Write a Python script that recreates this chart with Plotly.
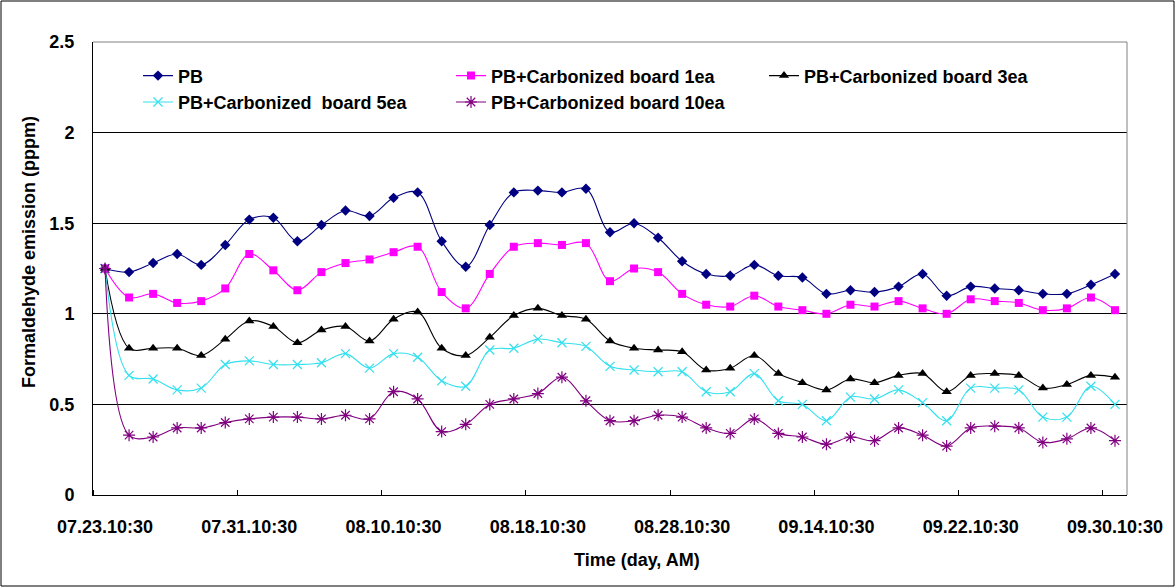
import plotly.graph_objects as go

# ---- data ----
tick_labels = ["07.23.10:30", "07.31.10:30", "08.10.10:30", "08.18.10:30",
               "08.28.10:30", "09.14.10:30", "09.22.10:30", "09.30.10:30"]
n_points = 43
label_every = 6

pb = [1.25, 1.23, 1.28, 1.33, 1.27, 1.38, 1.52, 1.53, 1.40, 1.49, 1.57, 1.54,
      1.64, 1.67, 1.40, 1.26, 1.49, 1.67, 1.68, 1.67, 1.69, 1.45, 1.50, 1.42,
      1.29, 1.22, 1.21, 1.27, 1.21, 1.20, 1.11, 1.13, 1.12, 1.15, 1.22, 1.10,
      1.15, 1.14, 1.13, 1.11, 1.11, 1.16, 1.22]
cb1 = [1.25, 1.09, 1.11, 1.06, 1.07, 1.14, 1.33, 1.24, 1.13, 1.23, 1.28, 1.30,
       1.34, 1.37, 1.12, 1.03, 1.22, 1.37, 1.39, 1.38, 1.39, 1.18, 1.25, 1.23,
       1.11, 1.05, 1.04, 1.10, 1.04, 1.02, 1.00, 1.05, 1.04, 1.07, 1.03, 1.00,
       1.08, 1.07, 1.06, 1.02, 1.03, 1.09, 1.02]
cb3 = [1.25, 0.81, 0.81, 0.81, 0.77, 0.86, 0.96, 0.93, 0.84, 0.91, 0.93, 0.85,
       0.97, 1.01, 0.81, 0.77, 0.87, 0.99, 1.03, 0.99, 0.97, 0.85, 0.81, 0.80,
       0.79, 0.69, 0.70, 0.77, 0.67, 0.62, 0.58, 0.64, 0.62, 0.66, 0.67, 0.57,
       0.66, 0.67, 0.66, 0.59, 0.61, 0.66, 0.65]
cb5 = [1.25, 0.66, 0.64, 0.58, 0.59, 0.72, 0.74, 0.72, 0.72, 0.73, 0.78, 0.70,
       0.78, 0.76, 0.63, 0.60, 0.80, 0.81, 0.86, 0.84, 0.82, 0.71, 0.69, 0.68,
       0.68, 0.57, 0.57, 0.67, 0.52, 0.50, 0.41, 0.54, 0.53, 0.58, 0.51, 0.41,
       0.59, 0.59, 0.58, 0.43, 0.43, 0.60, 0.50]
cb10 = [1.25, 0.33, 0.32, 0.37, 0.37, 0.40, 0.42, 0.43, 0.43, 0.42, 0.44, 0.42,
        0.57, 0.53, 0.35, 0.39, 0.50, 0.53, 0.56, 0.65, 0.52, 0.41, 0.41, 0.44,
        0.43, 0.37, 0.34, 0.42, 0.34, 0.32, 0.28, 0.32, 0.30, 0.37, 0.33, 0.27,
        0.37, 0.38, 0.37, 0.29, 0.31, 0.37, 0.30]

x = list(range(n_points))
FONT = "Liberation Sans, Arial, sans-serif"

series = [
    ("PB", pb, "#000080", "diamond", 8, 0, "legend", "g1"),
    ("PB+Carbonized board 1ea", cb1, "#FF00FF", "square", 8, 0, "legend2", "g2"),
    ("PB+Carbonized board 3ea", cb3, "#000000", "triangle-up", 9, 0, "legend3", "g3"),
    ("PB+Carbonized  board 5ea", cb5, "#33E0EE", "x-thin-open", 9, 1.2, "legend", "g4"),
    ("PB+Carbonized board 10ea", cb10, "#800080", "asterisk-open", 10, 1.2, "legend2", "g5"),
]

fig = go.Figure()
for name, vals, color, sym, size, mlw, leg, grp in series:
    fig.add_trace(go.Scatter(
        x=x, y=vals, name=name, mode="lines+markers",
        line=dict(color=color, width=1.1, shape="spline", smoothing=1),
        marker=dict(symbol=sym, size=size, color=color,
                    line=dict(color=color, width=mlw)),
        legend=leg, legendgroup=grp,
    ))

legend_common = dict(font=dict(family=FONT, size=18, color="black", weight="bold"),
                     bgcolor="rgba(0,0,0,0)", traceorder="grouped", tracegroupgap=0,
                     yanchor="top", xanchor="left", orientation="v")

fig.update_layout(
    width=1176, height=588,
    margin=dict(l=93, r=49, t=42, b=93),
    paper_bgcolor="white", plot_bgcolor="white",
    font=dict(family=FONT, color="black"),
    legend=dict(x=(138 - 93) / 1034, y=0.966, **legend_common),
    legend2=dict(x=(451 - 93) / 1034, y=0.966, **legend_common),
    legend3=dict(x=(764 - 93) / 1034, y=0.966, **legend_common),
    showlegend=True,
)

fig.update_xaxes(
    range=[-0.5, n_points - 0.5],
    tickmode="array",
    tickvals=[i * label_every for i in range(len(tick_labels))],
    ticktext=tick_labels,
    ticks="",
    tickfont=dict(family=FONT, size=18, color="black", weight="bold"),
    ticklabelstandoff=15,
    showgrid=False, zeroline=False,
    showline=True, linecolor="black", linewidth=1,
    minor=dict(tickmode="array",
               tickvals=[i * label_every - 0.5 for i in range(len(tick_labels))],
               ticks="inside", ticklen=5, tickwidth=1, tickcolor="black",
               showgrid=False),
)
fig.update_yaxes(
    range=[0, 2.5], tickmode="array", tickvals=[0, 0.5, 1, 1.5, 2, 2.5],
    ticktext=["0", "0.5", "1", "1.5", "2", "2.5"],
    ticks="", showgrid=True, gridcolor="black", gridwidth=1,
    zeroline=False, showline=True, linecolor="black", linewidth=1,
    tickfont=dict(family=FONT, size=18, color="black", weight="bold"),
    ticklabelstandoff=14,
)

# plot-area border (top & right, grey) and outer chart border
fig.add_shape(type="line", xref="paper", yref="paper", x0=0, x1=1, y0=1, y1=1,
              line=dict(color="#808080", width=1), layer="above")
fig.add_shape(type="line", xref="paper", yref="paper", x0=1, x1=1, y0=0, y1=1,
              line=dict(color="#808080", width=1), layer="above")
fig.add_shape(type="rect", xref="paper", yref="paper",
              x0=-92 / 1034, x1=1081 / 1034, y0=-91 / 453, y1=494 / 453,
              line=dict(color="black", width=1), layer="above")

fig.add_annotation(text="Time (day, AM)", xref="paper", yref="paper",
                   x=(637 - 93) / 1034, y=(495 - 560) / 453, showarrow=False,
                   xanchor="center", yanchor="middle",
                   font=dict(family=FONT, size=18, color="black", weight="bold"))
fig.add_annotation(text="Formaldehyde emission (pppm)", xref="paper", yref="paper",
                   x=(29 - 93) / 1034, y=(495 - 252) / 453, showarrow=False,
                   textangle=-90, xanchor="center", yanchor="middle",
                   font=dict(family=FONT, size=18, color="black", weight="bold"))

fig.write_html("out.html")
